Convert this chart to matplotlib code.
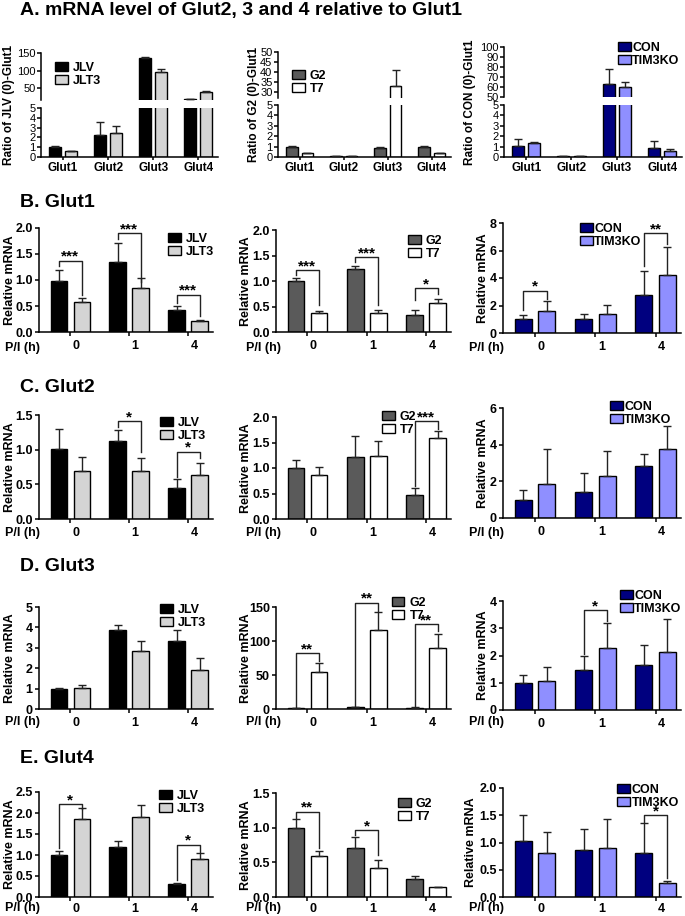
import matplotlib.pyplot as plt
import matplotlib.transforms as mtransforms
import numpy as np

plt.rcParams['font.family'] = ['Liberation Sans', 'DejaVu Sans']
plt.rcParams['font.weight'] = 'bold'
plt.rcParams['axes.linewidth'] = 1.1
plt.rcParams['xtick.major.width'] = 1.1
plt.rcParams['ytick.major.width'] = 1.1

W, H = 685, 916

# ---------------- data ----------------
genes = ['Glut1', 'Glut2', 'Glut3', 'Glut4']
hours = ['0', '1', '4']
pairs = [('JLV', 'JLT3'), ('G2', 'T7'), ('CON', 'TIM3KO')]
colors = [('#000000', '#d4d4d4'), ('#5a5a5a', '#ffffff'), ('#00007f', '#8f8fff')]

# A. ratio to Glut1 of the control at 0 h
a_jlv = [1.05, 2.2, 135, 18]
a_jlv_err = [0.05, 1.4, 3, 0]
a_jlt3 = [0.6, 2.4, 95, 40]
a_jlt3_err = [0.05, 0.8, 10, 3]
a_g2 = [1.0, 0.05, 0.9, 1.0]
a_g2_err = [0.05, 0.0, 0.05, 0.05]
a_t7 = [0.35, 0.05, 33, 0.35]
a_t7_err = [0.05, 0.0, 8, 0.05]
a_con = [1.1, 0.1, 63, 0.85]
a_con_err = [0.6, 0.02, 15, 0.7]
a_tim = [1.3, 0.05, 60, 0.55]
a_tim_err = [0.15, 0.02, 5, 0.2]

# B. Glut1
b_jlv = [0.98, 1.34, 0.42];  b_jlv_err = [0.21, 0.37, 0.08]
b_jlt3 = [0.58, 0.84, 0.21]; b_jlt3_err = [0.07, 0.19, 0.03]
b_g2 = [1.0, 1.24, 0.33];    b_g2_err = [0.05, 0.06, 0.11]
b_t7 = [0.37, 0.37, 0.56];   b_t7_err = [0.05, 0.06, 0.08]
b_con = [1.0, 1.05, 2.8];    b_con_err = [0.3, 0.3, 1.7]
b_tim = [1.58, 1.38, 4.2];   b_tim_err = [0.72, 0.68, 2.07]

# C. Glut2
c_jlv = [1.01, 1.13, 0.45];  c_jlv_err = [0.29, 0.15, 0.13]
c_jlt3 = [0.69, 0.69, 0.64]; c_jlt3_err = [0.21, 0.19, 0.17]
c_g2 = [1.0, 1.21, 0.48];    c_g2_err = [0.16, 0.41, 0.13]
c_t7 = [0.87, 1.24, 1.59];   c_t7_err = [0.14, 0.29, 0.14]
c_con = [1.0, 1.4, 2.82];    c_con_err = [0.55, 1.05, 0.69]
c_tim = [1.87, 2.31, 3.76];  c_tim_err = [1.89, 1.32, 1.24]

# D. Glut3
d_jlv = [1.0, 3.85, 3.35];   d_jlv_err = [0.02, 0.27, 0.5]
d_jlt3 = [1.04, 2.83, 1.93]; d_jlt3_err = [0.13, 0.48, 0.59]
d_g2 = [1, 3, 2];            d_g2_err = [0.3, 0.5, 0.5]
d_t7 = [54, 116, 90];        d_t7_err = [13, 26, 21]
d_con = [1.0, 1.45, 1.65];   d_con_err = [0.28, 0.52, 0.73]
d_tim = [1.07, 2.28, 2.12];  d_tim_err = [0.52, 0.9, 1.22]

# E. Glut4
e_jlv = [1.0, 1.2, 0.32];    e_jlv_err = [0.09, 0.13, 0.02]
e_jlt3 = [1.86, 1.91, 0.9];  e_jlt3_err = [0.27, 0.27, 0.14]
e_g2 = [1.0, 0.71, 0.26];    e_g2_err = [0.12, 0.16, 0.05]
e_t7 = [0.59, 0.42, 0.14];   e_t7_err = [0.07, 0.11, 0.01]
e_con = [1.02, 0.87, 0.8];   e_con_err = [0.49, 0.38, 0.55]
e_tim = [0.8, 0.9, 0.25];    e_tim_err = [0.39, 0.53, 0.04]

# significance brackets: (time index, bracket height, left end, right end, label)
b_sig = [[(0, 1.37, 1.26, 0.71, '***'), (1, 1.9, 1.79, 0.97, '***'), (2, 0.72, 0.56, 0.3, '***')],
         [(0, 1.21, 1.11, 0.52, '***'), (1, 1.47, 1.37, 0.52, '***'), (2, 0.86, 0.62, 0.74, '*')],
         [(0, 3.08, 1.7, 2.5, '*'), (2, 7.27, 4.85, 6.5, '**')]]
c_sig = [[(1, 1.41, 1.33, 0.97, '*'), (2, 0.97, 0.61, 0.88, '*')],
         [(2, 1.92, 0.65, 1.76, '***')],
         []]
d_sig = [[],
         [(0, 82, 3, 70, '**'), (1, 156, 5, 144, '**'), (2, 125, 4, 114, '**')],
         [(1, 3.67, 2.05, 3.25, '*')]]
e_sig = [[(0, 2.21, 1.17, 2.1, '*'), (2, 1.24, 0.4, 1.08, '*')],
         [(0, 1.23, 1.14, 0.7, '**'), (1, 0.96, 0.9, 0.6, '*')],
         [(2, 1.5, 1.38, 0.34, '*')]]

fig = plt.figure(figsize=(W / 100, H / 100), dpi=100)


def px_axes(x0, x1, y0, y1):
    return fig.add_axes([x0 / W, 1 - y1 / H, (x1 - x0) / W, (y1 - y0) / H])


def clean(ax):
    ax.spines['top'].set_visible(False)
    ax.spines['right'].set_visible(False)
    ax.set_facecolor('none')


def bars(ax, x, v1, e1, v2, e2, k, w, off):
    c1, c2 = colors[k]
    n1, n2 = pairs[k]
    for xs, v, e, c, n in [(x - off, v1, e1, c1, n1), (x + off, v2, e2, c2, n2)]:
        ax.bar(xs, v, w, color=c, edgecolor='black', linewidth=1, label=n, zorder=2)
        ax.errorbar(xs, v, yerr=[np.zeros(len(v)), e], fmt='none', ecolor='#222222',
                    elinewidth=1, capsize=3, capthick=1, zorder=3)


def legend(ax, xy, k):
    ax.legend(loc='upper left', bbox_to_anchor=(xy[0] / W, 1 - xy[1] / H),
              bbox_transform=fig.transFigure, frameon=False, borderpad=0, borderaxespad=0,
              handlelength=1.0, handleheight=0.75, handletextpad=0.15 if k == 2 else 0.4,
              labelspacing=0.1, prop=dict(weight='bold', size=9))


# ---------------- row A (broken axes) ----------------
a_data = [(a_jlv, a_jlv_err, a_jlt3, a_jlt3_err),
          (a_g2, a_g2_err, a_t7, a_t7_err),
          (a_con, a_con_err, a_tim, a_tim_err)]
a_x = [(41, 218), (278, 451), (504, 682)]
a_up_y = [(53, 100), (52, 98), (47, 97)]
a_lo_y = [(108, 157), (105, 157), (105, 157)]
a_up_lim = [(16, 150), (27, 50), (50, 100)]
a_up_ticks = [[50, 100, 150], [30, 35, 40, 45, 50], [50, 60, 70, 80, 90, 100]]
a_leg = [(55, 62), (292, 70), (618, 42)]
a_ylab = ['Ratio of JLV (0)-Glut1', 'Ratio of G2 (0)-Glut1', 'Ratio of CON (0)-Glut1']
a_ylab_x = [9, 254, 470]

xg = np.arange(len(genes))
for k in range(3):
    v1, e1, v2, e2 = a_data[k]
    up = px_axes(*a_x[k], *a_up_y[k])
    lo = px_axes(*a_x[k], *a_lo_y[k])
    for ax in (up, lo):
        clean(ax)
        bars(ax, xg, v1, e1, v2, e2, k, 0.27, 0.18)
        ax.set_xlim(-0.49, 3.44)
        ax.tick_params(axis='y', length=3, pad=1, labelsize=8, width=1.1)
    up.set_ylim(*a_up_lim[k])
    up.set_yticks(a_up_ticks[k])
    up.spines['bottom'].set_visible(False)
    up.tick_params(axis='x', bottom=False, labelbottom=False)
    lo.set_ylim(0, 5)
    lo.set_yticks(range(6))
    lo.set_xticks(xg)
    lo.set_xticklabels(genes, fontsize=8.5)
    lo.tick_params(axis='x', length=2, pad=1.5)
    for ax in (up, lo):
        for t in ax.get_yticklabels():
            t.set_fontweight('normal')
    legend(up, a_leg[k], k)
    yc = (a_up_y[k][0] + a_lo_y[k][1]) / 2
    fig.text(a_ylab_x[k] / W, 1 - yc / H, a_ylab[k], rotation=90, ha='center', va='center',
             fontsize=8.5, fontweight='bold')

fig.text(20 / W, 1 - 15 / H, 'A. mRNA level of Glut2, 3 and 4 relative to Glut1',
         fontsize=14, fontweight='bold', va='baseline')

# ---------------- rows B-E ----------------
rows = [
    ('B. Glut1', [(b_jlv, b_jlv_err, b_jlt3, b_jlt3_err), (b_g2, b_g2_err, b_t7, b_t7_err),
                  (b_con, b_con_err, b_tim, b_tim_err)], b_sig),
    ('C. Glut2', [(c_jlv, c_jlv_err, c_jlt3, c_jlt3_err), (c_g2, c_g2_err, c_t7, c_t7_err),
                  (c_con, c_con_err, c_tim, c_tim_err)], c_sig),
    ('D. Glut3', [(d_jlv, d_jlv_err, d_jlt3, d_jlt3_err), (d_g2, d_g2_err, d_t7, d_t7_err),
                  (d_con, d_con_err, d_tim, d_tim_err)], d_sig),
    ('E. Glut4', [(e_jlv, e_jlv_err, e_jlt3, e_jlt3_err), (e_g2, e_g2_err, e_t7, e_t7_err),
                  (e_con, e_con_err, e_tim, e_tim_err)], e_sig),
]
y_ticks = [
    [np.arange(0, 2.01, 0.5), np.arange(0, 2.01, 0.5), np.arange(0, 8.1, 2)],
    [np.arange(0, 1.51, 0.5), np.arange(0, 2.01, 0.5), np.arange(0, 6.1, 2)],
    [np.arange(0, 5.1, 1), np.arange(0, 151, 50), np.arange(0, 4.1, 1)],
    [np.arange(0, 2.51, 0.5), np.arange(0, 1.51, 0.5), np.arange(0, 2.01, 0.5)],
]
col_x = [(39, 213), (276, 451), (503, 681)]
row_y = [
    [(228, 332), (230, 332), (223, 333)],
    [(415, 519), (417, 519), (408, 518)],
    [(607, 709), (607, 709), (601, 710)],
    [(792, 897), (793, 897), (788, 897)],
]
title_y = [207, 392, 571, 763]
pi_y = [348, 533, 722, 908]
leg_xy = [
    [(168, 233), (408, 235), (580, 223)],
    [(160, 417), (382, 411), (610, 401)],
    [(160, 604), (392, 597), (620, 590)],
    [(159, 790), (398, 798), (617, 784)],
]
ylab_x = [[10, 246, 483], [10, 246, 483], [10, 246, 483], [10, 246, 471]]
pi_x = [5, 246, 469]

xt = np.arange(len(hours))
w, off = 0.28, 0.195
shift = mtransforms.ScaledTranslation(6 / 100, 0, fig.dpi_scale_trans)

for r, (title, data, sigs) in enumerate(rows):
    fig.text(20 / W, 1 - title_y[r] / H, title, fontsize=14, fontweight='bold', va='baseline')
    for k in range(3):
        v1, e1, v2, e2 = data[k]
        ax = px_axes(*col_x[k], *row_y[r][k])
        clean(ax)
        bars(ax, xt, v1, e1, v2, e2, k, w, off)
        ax.set_xlim(-0.53, 2.42)
        ticks = y_ticks[r][k]
        ax.set_ylim(0, ticks[-1])
        ax.set_yticks(ticks)
        if ticks[1] < 1:
            ax.set_yticklabels([f'{t:.1f}' for t in ticks])
        else:
            ax.set_yticklabels([f'{t:.0f}' for t in ticks])
        ax.tick_params(axis='y', length=3, pad=1.5, labelsize=9)
        ax.set_xticks(xt)
        ax.set_xticklabels(hours, fontsize=9)
        ax.tick_params(axis='x', length=3, pad=3 if r < 3 else 1.5)
        for t in ax.get_xticklabels():
            t.set_transform(t.get_transform() + shift)
        for g, h, yl, yr, s in sigs[k]:
            xl, xr = g - off, g + off
            ax.plot([xl, xl, xr, xr], [yl, h, h, yr], color='#222222', lw=1,
                    clip_on=False, zorder=4)
            ax.text(g, h, s, ha='center', va='baseline', fontsize=11, fontweight='bold',
                    clip_on=False)
        legend(ax, leg_xy[r][k], k)
        yc = sum(row_y[r][k]) / 2
        fig.text(ylab_x[r][k] / W, 1 - yc / H, 'Relative mRNA', rotation=90, ha='center',
                 va='center', fontsize=9, fontweight='bold')
        fig.text(pi_x[k] / W, 1 - pi_y[r] / H, 'P/I (h)', fontsize=9, fontweight='bold',
                 va='center')

fig.savefig('out.png', dpi=100)
